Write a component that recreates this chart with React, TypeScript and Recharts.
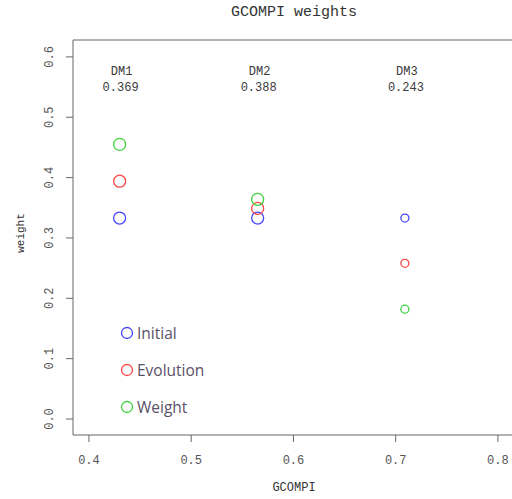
import { ScatterChart, Scatter, XAxis, YAxis, Label } from "recharts"

const decisionMakers = ["DM1", "DM2", "DM3"]
const gcompiScores = ["0.369", "0.388", "0.243"]
const gcompiPositions = [0.43, 0.565, 0.709]
const initialWeights = [0.333, 0.333, 0.333]
const evolutionWeights = [0.394, 0.349, 0.258]
const finalWeights = [0.455, 0.364, 0.182]
const xTicks = [0.4, 0.5, 0.6, 0.7, 0.8]
const yTicks = [0, 0.1, 0.2, 0.3, 0.4, 0.5, 0.6]

// styling
const markerRadius = [6, 6, 4]
const mono = "'Liberation Mono', 'DejaVu Sans Mono', monospace"
const axisColor = "#666"
const textColor = "#555"

const series = [
    { name: "Initial", values: initialWeights, color: "#4646ff" },
    { name: "Evolution", values: evolutionWeights, color: "#ff4646" },
    { name: "Weight", values: finalWeights, color: "#3ed23e" },
]

const rowsFor = (values: number[]) =>
    gcompiPositions.map((x, i) => ({ x, y: values[i], idx: i }))

const labelRows = gcompiPositions.map((x, i) => ({
    x,
    y: 0.6,
    name: decisionMakers[i],
    score: gcompiScores[i],
}))

const XTick = ({ x, y, payload }: any) => (
    <text x={x} y={y + 17} textAnchor="middle" dominantBaseline="central"
        fontFamily={mono} fontSize={12} fill={textColor}>
        {payload.value.toFixed(1)}
    </text>
)

const YTick = ({ x, y, payload }: any) => (
    <text x={x - 16} y={y} textAnchor="middle" dominantBaseline="central"
        fontFamily={mono} fontSize={12} fill={textColor}
        transform={`rotate(-90 ${x - 16} ${y})`}>
        {payload.value.toFixed(1)}
    </text>
)

const circleShape = (color: string) => (props: any) => (
    <circle cx={props.cx} cy={props.cy} r={markerRadius[props.payload.idx]}
        fill="none" stroke={color} strokeWidth={1.3} />
)

const DmLabel = (props: any) => (
    <g>
        <text x={props.cx + 2} y={props.cy + 15} textAnchor="middle" dominantBaseline="central"
            fontFamily={mono} fontSize={12} fill="#3a3a3a">
            {props.payload.name}
        </text>
        <text x={props.cx + 1} y={props.cy + 31} textAnchor="middle" dominantBaseline="central"
            fontFamily={mono} fontSize={12} fill="#3a3a3a">
            {props.payload.score}
        </text>
    </g>
)

function LegendBox() {
    return (
        <svg width={512} height={499} style={{ position: "absolute", left: 0, top: 0, pointerEvents: "none" }}>
            {series.map((s, i) => (
                <g key={s.name}>
                    <circle cx={127} cy={333 + i * 37} r={5.5} fill="none" stroke={s.color} strokeWidth={1.3} />
                    <text x={137} y={333 + i * 37} dominantBaseline="central"
                        fontFamily="'Open Sans', sans-serif" fontSize={15.5} fill="#5a5068">
                        {s.name}
                    </text>
                </g>
            ))}
        </svg>
    )
}

export default function App() {
    return (
        <div style={{ position: "absolute", left: 0, top: 0, width: 512, height: 499, overflow: "hidden", background: "#fff" }}>
            <ScatterChart width={515} height={499} margin={{ top: 39, right: 0, bottom: 0, left: 0 }}>
                <XAxis
                    xAxisId="top"
                    orientation="top"
                    type="number"
                    dataKey="x"
                    domain={[0.3844, 0.8167]}
                    allowDataOverflow
                    height={1}
                    tick={false}
                    tickLine={false}
                    axisLine={{ stroke: axisColor }}
                >
                    <Label
                        content={() => (
                            <text x={294} y={12} textAnchor="middle" dominantBaseline="central"
                                fontFamily={mono} fontSize={15} fill="#333">
                                GCOMPI weights
                            </text>
                        )}
                    />
                </XAxis>
                <XAxis
                    type="number"
                    dataKey="x"
                    domain={[0.3844, 0.8167]}
                    allowDataOverflow
                    ticks={xTicks}
                    tick={<XTick />}
                    tickSize={7}
                    tickLine={{ stroke: axisColor }}
                    axisLine={{ stroke: axisColor }}
                    height={64}
                >
                    <Label
                        content={() => (
                            <text x={294} y={488} textAnchor="middle" dominantBaseline="central"
                                fontFamily={mono} fontSize={12} fill="#333">
                                GCOMPI
                            </text>
                        )}
                    />
                </XAxis>
                <YAxis
                    type="number"
                    dataKey="y"
                    domain={[-0.0265, 0.628]}
                    allowDataOverflow
                    ticks={yTicks}
                    tick={<YTick />}
                    tickSize={7}
                    tickMargin={0}
                    tickLine={{ stroke: axisColor }}
                    axisLine={{ stroke: axisColor }}
                    width={73}
                >
                    <Label
                        content={() => (
                            <text x={21} y={233} textAnchor="middle" dominantBaseline="central"
                                fontFamily={mono} fontSize={11} fill="#333"
                                transform="rotate(-90 21 233)">
                                weight
                            </text>
                        )}
                    />
                </YAxis>
                {series.map(s => (
                    <Scatter key={s.name} name={s.name} data={rowsFor(s.values)}
                        shape={circleShape(s.color)} isAnimationActive={false} />
                ))}
                <Scatter name="labels" data={labelRows} shape={<DmLabel />} isAnimationActive={false} />
            </ScatterChart>
            <LegendBox />
        </div>
    )
}
